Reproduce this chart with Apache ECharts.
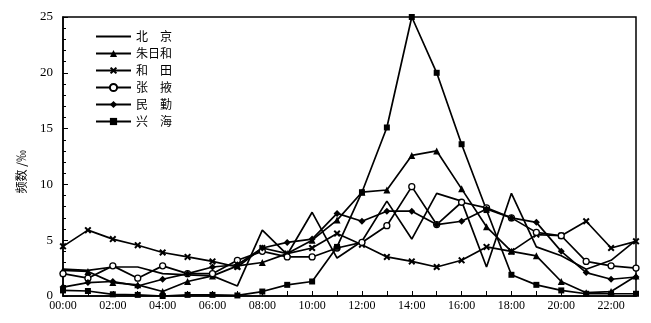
<!DOCTYPE html>
<html>
<head>
<meta charset="utf-8">
<script src="https://cdn.jsdelivr.net/npm/echarts@6/dist/echarts.min.js"></script>
<style>
  html, body { margin: 0; padding: 0; background: #fff; }
  #chart { width: 651px; height: 323px; }
</style>
</head>
<body>
<div id="chart"></div>
<script>
// 时刻
const hours = ['00:00', '01:00', '02:00', '03:00', '04:00', '05:00', '06:00', '07:00',
  '08:00', '09:00', '10:00', '11:00', '12:00', '13:00', '14:00', '15:00',
  '16:00', '17:00', '18:00', '19:00', '20:00', '21:00', '22:00', '23:00']

// 各站频数 (‰)
const beijing = [2.4, 2.3, 2.6, 2.6, 2.0, 1.9, 1.8, 0.9, 5.9, 3.7, 7.5, 3.4, 4.9, 8.5, 5.1, 9.2, 8.5, 2.6, 9.2, 4.4, 3.6, 2.4, 3.2, 5.0]
const zhurihe = [2.3, 2.2, 1.2, 1.0, 0.4, 1.3, 1.8, 2.7, 3.0, 3.8, 5.0, 6.8, 9.3, 9.5, 12.6, 13.0, 9.6, 6.2, 4.0, 3.6, 1.3, 0.3, 0.4, 1.8]
const hetian = [4.45, 5.9, 5.1, 4.55, 3.9, 3.5, 3.1, 2.6, 4.3, 3.8, 4.3, 5.6, 4.6, 3.5, 3.1, 2.6, 3.2, 4.4, 4.0, 5.5, 5.4, 6.7, 4.3, 4.9]
const zhangye = [2.0, 1.6, 2.7, 1.6, 2.7, 2.0, 2.0, 3.2, 4.0, 3.5, 3.5, 4.3, 4.8, 6.3, 9.8, 6.4, 8.4, 7.9, 7.0, 5.7, 5.4, 3.1, 2.7, 2.5]
const minqin = [0.8, 1.2, 1.3, 0.9, 1.5, 2.0, 2.6, 2.8, 4.3, 4.8, 5.1, 7.4, 6.7, 7.6, 7.6, 6.4, 6.7, 7.8, 7.0, 6.6, 4.0, 2.1, 1.5, 1.7]
const xinghai = [0.5, 0.45, 0.15, 0.1, 0.0, 0.1, 0.1, 0.05, 0.4, 1.0, 1.3, 4.4, 9.3, 15.1, 25, 20.0, 13.6, 7.7, 1.9, 1.0, 0.5, 0.2, 0.2, 0.2]

const names = ['北　京', '朱日和', '和　田', '张　掖', '民　勤', '兴　海']

const xMark = 'path://M2,0L5,3L8,0L10,2L7,5L10,8L8,10L5,7L2,10L0,8L3,5L0,2Z'

function line (name, data, symbol, size, fill) {
  return {
    name: name,
    type: 'line',
    data: data,
    symbol: symbol,
    symbolSize: size,
    showSymbol: symbol !== 'none',
    itemStyle: { color: fill || '#000', borderColor: '#000', borderWidth: fill ? 1.3 : 0 },
    lineStyle: { color: '#000', width: 1.7 },
    emphasis: { disabled: true },
    animation: false
  }
}

const chart = echarts.init(document.getElementById('chart'))
chart.setOption({
  backgroundColor: '#fff',
  textStyle: { fontFamily: 'Liberation Serif', color: '#000' },
  grid: {
    left: 63, right: 15, top: 17, bottom: 27,
    show: true, borderColor: '#000', borderWidth: 1.5
  },
  legend: {
    orient: 'vertical',
    left: 95, top: 30, padding: 0,
    itemWidth: 35, itemHeight: 9, itemGap: 4,
    textStyle: { fontFamily: 'Noto Sans CJK SC', fontSize: 12, lineHeight: 13, color: '#000' },
    data: [{ name: names[0], itemStyle: { opacity: 0 } }, names[1], names[2], names[3], names[4], names[5]]
  },
  xAxis: {
    type: 'category',
    data: hours,
    boundaryGap: false,
    axisLine: { lineStyle: { color: '#000', width: 1.5 } },
    axisTick: { inside: true, length: 5, interval: 0, lineStyle: { color: '#000' } },
    axisLabel: { interval: 1, color: '#000', fontSize: 12, margin: 4, fontFamily: 'Liberation Serif' },
    splitLine: { show: false }
  },
  yAxis: {
    type: 'value',
    min: 0, max: 25, interval: 5,
    axisLine: { show: true, lineStyle: { color: '#000', width: 1.5 } },
    axisTick: { show: true, inside: true, length: 5, lineStyle: { color: '#000' } },
    minorTick: { show: true, splitNumber: 5, length: 3, lineStyle: { color: '#000' } },
    axisLabel: { color: '#000', fontSize: 13, margin: 10, fontFamily: 'Liberation Serif' },
    splitLine: { show: false }
  },
  graphic: [{
    type: 'text',
    left: 15, top: 150,
    rotation: Math.PI / 2,
    style: { text: '频数 /‰', font: '12px "Noto Sans CJK SC"', fill: '#000' }
  }],
  series: [
    line(names[0], beijing, 'none', 0),
    line(names[1], zhurihe, 'triangle', 7),
    line(names[2], hetian, xMark, 7),
    line(names[3], zhangye, 'circle', 6, '#fff'),
    line(names[4], minqin, 'diamond', 7),
    line(names[5], xinghai, 'rect', 6)
  ]
})
</script>
</body>
</html>
